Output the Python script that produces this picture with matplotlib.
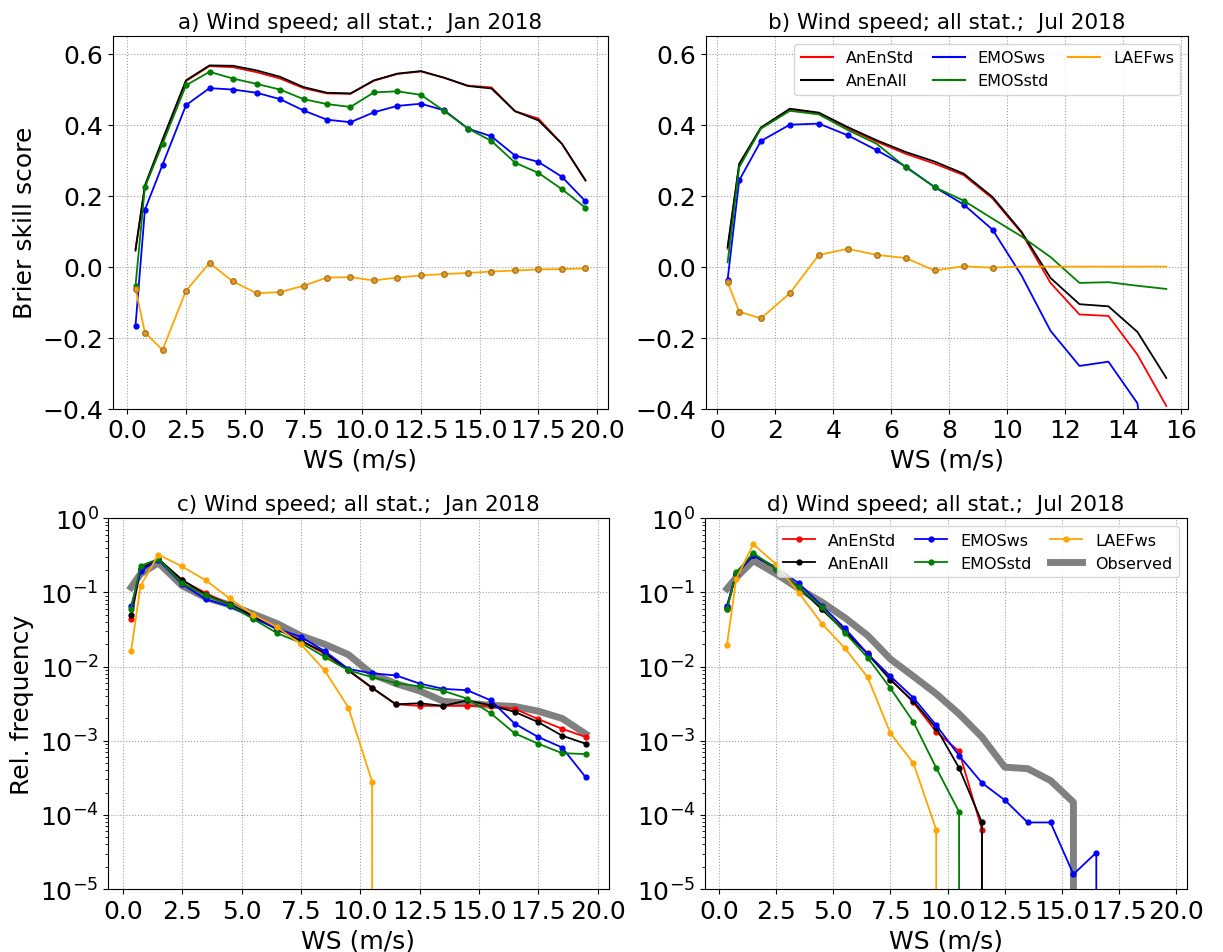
import matplotlib
matplotlib.use('Agg')
import matplotlib.pyplot as plt
from matplotlib.lines import Line2D

# centros das classes de velocidade do vento (m/s)
ws = [0.35, 0.75, 1.5, 2.5, 3.5, 4.5, 5.5, 6.5, 7.5, 8.5, 9.5, 10.5,
      11.5, 12.5, 13.5, 14.5, 15.5, 16.5, 17.5, 18.5, 19.5]
ws_jul = ws[:17]

# Brier skill score - Jan 2018
bss_anen_std_jan = [0.050, 0.225, 0.355, 0.523, 0.565, 0.562, 0.548, 0.530, 0.503, 0.488, 0.487,
                    0.524, 0.543, 0.550, 0.532, 0.510, 0.505, 0.438, 0.417, 0.346, 0.243]
bss_anen_all_jan = [0.045, 0.229, 0.358, 0.525, 0.567, 0.566, 0.553, 0.535, 0.506, 0.490, 0.488,
                    0.525, 0.544, 0.551, 0.532, 0.509, 0.502, 0.438, 0.412, 0.346, 0.243]
bss_emos_ws_jan = [-0.167, 0.160, 0.287, 0.455, 0.503, 0.499, 0.490, 0.472, 0.440, 0.414, 0.407,
                   0.435, 0.453, 0.459, 0.440, 0.389, 0.367, 0.313, 0.295, 0.253, 0.184]
bss_emos_std_jan = [-0.054, 0.224, 0.346, 0.511, 0.549, 0.530, 0.515, 0.499, 0.472, 0.458, 0.450,
                    0.491, 0.494, 0.484, 0.438, 0.389, 0.354, 0.293, 0.264, 0.218, 0.166]
bss_laef_jan = [-0.062, -0.186, -0.235, -0.068, 0.010, -0.042, -0.075, -0.072, -0.054, -0.031, -0.030,
                -0.039, -0.031, -0.025, -0.021, -0.018, -0.014, -0.011, -0.008, -0.007, -0.005]

# Brier skill score - Jul 2018
bss_anen_std_jul = [0.050, 0.285, 0.390, 0.442, 0.432, 0.390, 0.352, 0.318, 0.290, 0.258, 0.192,
                    0.095, -0.046, -0.135, -0.139, -0.248, -0.393]
bss_anen_all_jul = [0.055, 0.290, 0.392, 0.445, 0.434, 0.393, 0.356, 0.323, 0.296, 0.262, 0.196,
                    0.098, -0.032, -0.106, -0.112, -0.184, -0.314]
bss_emos_ws_jul = [-0.037, 0.243, 0.354, 0.400, 0.403, 0.370, 0.328, 0.282, 0.224, 0.175, 0.104,
                   -0.025, -0.181, -0.280, -0.268, -0.385, -1.0]
bss_emos_std_jul = [0.012, 0.280, 0.389, 0.439, 0.429, 0.385, 0.346, 0.280, 0.224, 0.186, 0.135,
                    0.085, 0.027, -0.046, -0.044, -0.054, -0.063]
bss_laef_jul = [-0.044, -0.127, -0.146, -0.075, 0.033, 0.050, 0.033, 0.024, -0.011, 0.001, -0.003,
                0.0, 0.0, 0.0, 0.0, 0.0, 0.0]

# frequencia relativa - Jan 2018
fr_obs_jan = [0.117, 0.178, 0.251, 0.123, 0.085, 0.068, 0.051, 0.038, 0.026, 0.020, 0.0145,
              0.0079, 0.0059, 0.0047, 0.0034, 0.0032, 0.0030, 0.0029, 0.0025, 0.0020, 0.00123]
fr_anen_std_jan = [0.0437, 0.209, 0.282, 0.145, 0.098, 0.069, 0.0457, 0.0324, 0.0224, 0.0148, 0.0089,
                   0.0051, 0.0031, 0.00295, 0.00295, 0.00295, 0.00295, 0.0027, 0.00195, 0.00145, 0.00112]
fr_anen_all_jan = [0.050, 0.209, 0.282, 0.148, 0.093, 0.069, 0.048, 0.0316, 0.0224, 0.0155, 0.0089,
                   0.0052, 0.0031, 0.0032, 0.00295, 0.0035, 0.0030, 0.00245, 0.00178, 0.00117, 0.00091]
fr_emos_ws_jan = [0.065, 0.195, 0.275, 0.129, 0.081, 0.065, 0.045, 0.0324, 0.0251, 0.0162, 0.0093,
                  0.0081, 0.0076, 0.0059, 0.0050, 0.0048, 0.0035, 0.0017, 0.00112, 0.00081, 0.00032]
fr_emos_std_jan = [0.060, 0.229, 0.282, 0.132, 0.091, 0.068, 0.0437, 0.0282, 0.0209, 0.0135, 0.0089,
                   0.0072, 0.0060, 0.0054, 0.0047, 0.0037, 0.00234, 0.00126, 0.00091, 0.00068, 0.00066]
fr_laef_jan = [0.0162, 0.123, 0.324, 0.224, 0.145, 0.083, 0.050, 0.034, 0.020, 0.0089, 0.0028,
               0.00028, 0, 0, 0, 0, 0, 0, 0, 0, 0]

# frequencia relativa - Jul 2018
fr_obs_jul = [0.112, 0.158, 0.269, 0.178, 0.112, 0.074, 0.0457, 0.0263, 0.0126, 0.0074, 0.0043,
              0.0023, 0.00112, 0.00044, 0.00042, 0.00029, 0.000148, 0, 0, 0, 0]
fr_anen_std_jul = [0.060, 0.178, 0.316, 0.214, 0.117, 0.060, 0.031, 0.0151, 0.0068, 0.0033, 0.00132,
                   0.00072, 0.000063, 0, 0, 0, 0, 0, 0, 0, 0]
fr_anen_all_jul = [0.063, 0.178, 0.316, 0.209, 0.117, 0.059, 0.030, 0.0148, 0.0066, 0.0034, 0.00148,
                   0.00043, 0.000079, 0, 0, 0, 0, 0, 0, 0, 0]
fr_emos_ws_jul = [0.066, 0.178, 0.316, 0.219, 0.132, 0.066, 0.033, 0.0148, 0.0074, 0.0038, 0.00162,
                  0.00063, 0.00027, 0.000158, 0.000079, 0.000079, 0.0000158, 0.000031, 0, 0, 0]
fr_emos_std_jul = [0.059, 0.186, 0.339, 0.209, 0.117, 0.063, 0.0288, 0.0132, 0.0051, 0.0018, 0.00043,
                   0.00011, 0, 0, 0, 0, 0, 0, 0, 0, 0]
fr_laef_jul = [0.0195, 0.151, 0.447, 0.240, 0.098, 0.038, 0.0178, 0.0072, 0.00126, 0.0005, 0.000063,
               0, 0, 0, 0, 0, 0, 0, 0, 0, 0]

nomes = ['AnEnStd', 'AnEnAll', 'EMOSws', 'EMOSstd', 'LAEFws']
cores = ['red', 'black', 'blue', 'green', 'orange']
ticks_25 = [0, 2.5, 5, 7.5, 10, 12.5, 15, 17.5, 20]
cor_grade = '#a0a0a0'

fig = plt.figure(figsize=(12.23, 9.53), dpi=100)
ax_a = fig.add_axes([0.0924, 0.5703, 0.4047, 0.3909])
ax_b = fig.add_axes([0.5770, 0.5703, 0.3946, 0.3909])
ax_c = fig.add_axes([0.0886, 0.0661, 0.4090, 0.3890])
ax_d = fig.add_axes([0.5765, 0.0661, 0.3939, 0.3890])

# a) BSS Jan
ax_a.plot(ws, bss_anen_std_jan, color='red', lw=1.3)
ax_a.plot(ws, bss_anen_all_jan, color='black', lw=1.3)
ax_a.plot(ws, bss_emos_ws_jan, color='blue', lw=1.3, marker='o', ms=3.5)
ax_a.plot(ws, bss_emos_std_jan, color='green', lw=1.3, marker='o', ms=3.5)
ax_a.plot(ws, bss_laef_jan, color='orange', lw=1.3, marker='o', ms=4,
          mec='#b07818', mfc='#e09a28')

# b) BSS Jul (marcadores so em algumas classes)
ax_b.plot(ws_jul, bss_anen_std_jul, color='red', lw=1.3)
ax_b.plot(ws_jul, bss_anen_all_jul, color='black', lw=1.3)
ax_b.plot(ws_jul, bss_emos_ws_jul, color='blue', lw=1.3, marker='o', ms=3.5,
          markevery=list(range(11)))
ax_b.plot(ws_jul, bss_emos_std_jul, color='green', lw=1.3, marker='o', ms=3.5,
          markevery=[7, 8, 9])
ax_b.plot(ws_jul, bss_laef_jul, color='orange', lw=1.3, marker='o', ms=4,
          mec='#b07818', mfc='#e09a28', markevery=list(range(11)))

for ax, titulo in [(ax_a, 'a) Wind speed; all stat.;  Jan 2018'),
                   (ax_b, 'b) Wind speed; all stat.;  Jul 2018')]:
    ax.set_ylim(-0.4, 0.65)
    ax.set_yticks([-0.4, -0.2, 0.0, 0.2, 0.4, 0.6])
    ax.set_title(titulo, fontsize=15.5)
    ax.set_xlabel('WS (m/s)', fontsize=18)
    ax.tick_params(labelsize=18)
    ax.grid(True, linestyle=':', color=cor_grade)

ax_a.set_xticks(ticks_25)
ax_b.set_xticks([0, 2, 4, 6, 8, 10, 12, 14, 16])
ax_a.set_ylabel('Brier skill score', fontsize=18)

# legenda do painel b so com linhas
linhas = [Line2D([], [], color=c, lw=1.5) for c in cores]
ax_b.legend(linhas, nomes, loc='upper right', ncol=3, fontsize=11.5,
            columnspacing=1.2, handletextpad=0.8)

# c) e d) frequencia relativa
series_jan = [fr_anen_std_jan, fr_anen_all_jan, fr_emos_ws_jan, fr_emos_std_jan, fr_laef_jan]
series_jul = [fr_anen_std_jul, fr_anen_all_jul, fr_emos_ws_jul, fr_emos_std_jul, fr_laef_jul]

for ax, series, obs, titulo in [(ax_c, series_jan, fr_obs_jan, 'c) Wind speed; all stat.;  Jan 2018'),
                                (ax_d, series_jul, fr_obs_jul, 'd) Wind speed; all stat.;  Jul 2018')]:
    ax.set_yscale('log', nonpositive='clip')
    ax.plot(ws, obs, color='gray', lw=5, label='Observed', zorder=2)
    for valores, nome, cor in zip(series, nomes, cores):
        ax.plot(ws, valores, color=cor, lw=1.3, marker='o', ms=3.5, label=nome, zorder=3)
    ax.set_ylim(1e-5, 1)
    ax.set_xticks(ticks_25)
    ax.set_title(titulo, fontsize=15.5)
    ax.set_xlabel('WS (m/s)', fontsize=18)
    ax.tick_params(labelsize=18)
    ax.grid(True, linestyle=':', color=cor_grade)

ax_c.set_ylabel('Rel. frequency', fontsize=18)

# legenda com Observed no fim
handles, labels = ax_d.get_legend_handles_labels()
handles = handles[1:] + handles[:1]
labels = labels[1:] + labels[:1]
ax_d.legend(handles, labels, loc='upper right', ncol=3, fontsize=11.5,
            columnspacing=1.2, handletextpad=0.8)

plt.savefig('out.png', format='png', dpi=100)
